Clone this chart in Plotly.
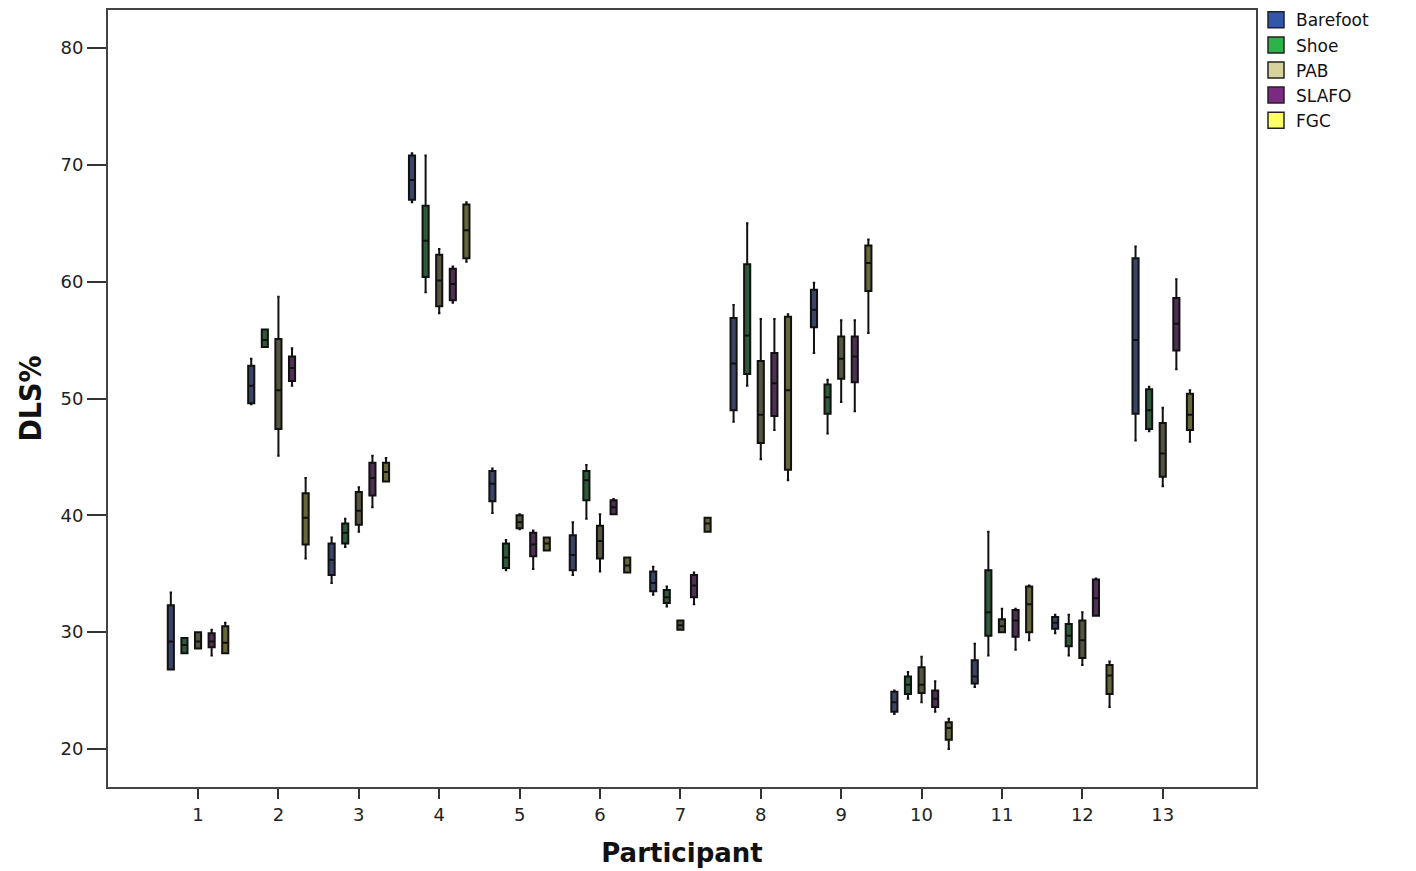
import plotly.graph_objects as go

# Participants on the category axis
participants = [str(i) for i in range(1, 14)]

# Box statistics per condition, one tuple per participant:
# (lower whisker, Q1, median, Q3, upper whisker) of DLS%
barefoot_stats = [
    (26.8, 26.8, 29.2, 32.3, 33.4), (49.5, 49.6, 51.1, 52.8, 53.4),
    (34.2, 34.9, 36.2, 37.6, 38.1), (66.8, 67.0, 68.7, 70.8, 71.0),
    (40.2, 41.2, 42.7, 43.8, 44.0), (34.9, 35.3, 36.6, 38.3, 39.4),
    (33.2, 33.5, 34.2, 35.2, 35.6), (48.0, 49.0, 53.0, 56.9, 58.0),
    (53.9, 56.1, 57.6, 59.3, 59.9), (23.0, 23.2, 24.0, 24.9, 25.0),
    (25.3, 25.6, 26.2, 27.6, 29.0), (29.9, 30.3, 30.8, 31.3, 31.5),
    (46.4, 48.7, 55.0, 62.0, 63.0),
]
shoe_stats = [
    (28.2, 28.2, 28.9, 29.5, 29.5), (54.4, 54.4, 55.0, 55.9, 55.9),
    (37.3, 37.6, 38.5, 39.3, 39.7), (59.1, 60.4, 63.5, 66.5, 70.8),
    (35.3, 35.5, 36.4, 37.6, 37.9), (39.7, 41.3, 43.0, 43.8, 44.3),
    (32.2, 32.5, 33.0, 33.6, 33.9), (51.1, 52.1, 55.4, 61.5, 65.0),
    (47.0, 48.7, 50.1, 51.2, 51.6), (24.3, 24.7, 25.5, 26.2, 26.6),
    (28.0, 29.7, 31.7, 35.3, 38.6), (28.0, 28.8, 29.7, 30.7, 31.5),
    (47.2, 47.4, 49.0, 50.8, 51.0),
]
pab_stats = [
    (28.6, 28.6, 29.2, 30.0, 30.0), (45.1, 47.4, 50.7, 55.1, 58.7),
    (38.6, 39.2, 40.4, 42.0, 42.4), (57.3, 57.9, 60.1, 62.3, 62.8),
    (38.8, 38.9, 39.4, 40.0, 40.1), (35.2, 36.3, 37.8, 39.1, 40.1),
    (30.2, 30.2, 30.6, 31.0, 31.0), (44.8, 46.2, 48.6, 53.2, 56.8),
    (49.7, 51.7, 53.4, 55.3, 56.7), (24.0, 24.8, 25.5, 27.0, 27.9),
    (30.0, 30.0, 30.5, 31.1, 32.0), (27.2, 27.8, 29.3, 31.0, 31.7),
    (42.5, 43.3, 45.3, 47.9, 49.2),
]
slafo_stats = [
    (28.0, 28.7, 29.2, 29.9, 30.2), (51.1, 51.5, 52.6, 53.6, 54.3),
    (40.7, 41.7, 43.2, 44.5, 45.1), (58.2, 58.4, 59.8, 61.1, 61.3),
    (35.4, 36.5, 37.5, 38.5, 38.7), (40.1, 40.1, 40.7, 41.3, 41.4),
    (32.4, 33.0, 34.0, 34.9, 35.1), (47.3, 48.5, 51.3, 53.9, 56.8),
    (48.9, 51.4, 53.6, 55.3, 56.7), (23.2, 23.6, 24.3, 25.0, 25.8),
    (28.5, 29.6, 31.0, 31.9, 32.0), (31.4, 31.4, 32.9, 34.5, 34.6),
    (52.5, 54.1, 56.4, 58.6, 60.2),
]
fgc_stats = [
    (28.2, 28.2, 29.1, 30.5, 30.8), (36.3, 37.5, 39.8, 41.9, 43.2),
    (42.9, 42.9, 43.7, 44.5, 44.9), (61.7, 62.0, 64.4, 66.6, 66.8),
    (37.0, 37.0, 37.6, 38.1, 38.1), (35.1, 35.1, 35.7, 36.4, 36.4),
    (38.6, 38.6, 39.3, 39.8, 39.8), (43.0, 43.9, 50.7, 57.0, 57.2),
    (55.6, 59.2, 61.6, 63.1, 63.6), (20.0, 20.8, 21.8, 22.3, 22.6),
    (29.3, 30.0, 32.4, 33.9, 34.0), (23.6, 24.7, 26.3, 27.2, 27.5),
    (46.3, 47.3, 48.6, 50.4, 50.7),
]

conditions = ["Barefoot", "Shoe", "PAB", "SLAFO", "FGC"]
condition_stats = [barefoot_stats, shoe_stats, pab_stats, slafo_stats, fgc_stats]
legend_colors = ["#3355aa", "#2db34a", "#d8d29c", "#7b2a82", "#ffff66"]
box_fills = ["#3a4468", "#2f5a3a", "#55543f", "#4f2f55", "#66663a"]

fig = go.Figure()

for name, stats, fill in zip(conditions, condition_stats, box_fills):
    low, q1, med, q3, high = (list(col) for col in zip(*stats))
    fig.add_trace(go.Box(
        name=name,
        x=participants,
        lowerfence=low, q1=q1, median=med, q3=q3, upperfence=high,
        fillcolor=fill,
        line=dict(color="#111111", width=2),
        whiskerwidth=0.4,
        boxpoints=False,
        showlegend=False,
        legendgroup=name,
    ))

# Legend entries with the condition colours
for name, color in zip(conditions, legend_colors):
    fig.add_trace(go.Scatter(
        x=[None], y=[None], mode="markers", name=name, legendgroup=name,
        marker=dict(symbol="square", size=16, color=color,
                    line=dict(color="#222222", width=1.5)),
    ))

fig.update_layout(
    width=1416, height=871,
    margin=dict(l=108, r=160, t=10, b=84, autoexpand=False),
    paper_bgcolor="white", plot_bgcolor="white",
    boxmode="group", boxgap=0.154, boxgroupgap=0.55,
    font=dict(family="DejaVu Sans", color="#222222"),
    legend=dict(
        x=1.0, xanchor="left", y=1.01, yanchor="top",
        font=dict(size=17, family="DejaVu Sans", color="#111111"),
        bgcolor="rgba(0,0,0,0)", tracegroupgap=0, itemwidth=30,
    ),
    xaxis=dict(
        type="category", range=[-1.12, 13.16],
        showline=True, linecolor="#444444", linewidth=2, mirror=True,
        ticks="outside", ticklen=10, tickwidth=2, tickcolor="#333333",
        tickfont=dict(size=18, family="DejaVu Sans", color="#222222"),
        showgrid=False, zeroline=False,
        title=dict(text="<b>Participant</b>", standoff=20,
                   font=dict(size=26, family="DejaVu Sans", color="#111111")),
    ),
    yaxis=dict(
        range=[16.75, 83.25], tickvals=[20, 30, 40, 50, 60, 70, 80],
        showline=True, linecolor="#444444", linewidth=2, mirror=True,
        ticks="outside", ticklen=19, tickwidth=2, tickcolor="#333333",
        tickfont=dict(size=18, family="DejaVu Sans", color="#222222"),
        showgrid=False, zeroline=False,
        title=dict(text="<b>DLS%</b>", standoff=10,
                   font=dict(size=30, family="Liberation Sans Narrow, DejaVu Sans Condensed, sans-serif",
                             color="#111111")),
    ),
)

fig.write_html("out.html")
